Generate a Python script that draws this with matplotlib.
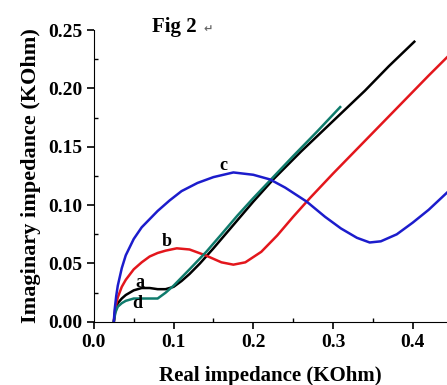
import numpy as np
import matplotlib.pyplot as plt
from matplotlib.ticker import MultipleLocator

# curve a (black)
ax_x = [0.025, 0.027, 0.030, 0.035, 0.040, 0.050, 0.060, 0.070, 0.080, 0.090, 0.100, 0.110,
        0.120, 0.133, 0.150, 0.175, 0.200, 0.225, 0.260, 0.300, 0.340, 0.370, 0.402]
ay = [0.000, 0.010, 0.016, 0.020, 0.023, 0.027, 0.029, 0.029, 0.028, 0.028, 0.030, 0.035,
      0.041, 0.050, 0.063, 0.083, 0.103, 0.122, 0.146, 0.172, 0.198, 0.219, 0.240]
# curve b (red)
bx = [0.025, 0.027, 0.030, 0.035, 0.040, 0.050, 0.060, 0.070, 0.080, 0.090, 0.104, 0.120,
      0.140, 0.160, 0.175, 0.190, 0.210, 0.230, 0.250, 0.271, 0.300, 0.340, 0.380, 0.420, 0.445]
by = [0.000, 0.012, 0.021, 0.030, 0.036, 0.045, 0.051, 0.056, 0.059, 0.061, 0.063, 0.062,
      0.057, 0.051, 0.049, 0.051, 0.060, 0.074, 0.090, 0.106, 0.127, 0.155, 0.183, 0.211, 0.228]
# curve c (blue)
cx = [0.025, 0.026, 0.028, 0.030, 0.035, 0.040, 0.050, 0.060, 0.070, 0.080, 0.095, 0.110,
      0.130, 0.150, 0.175, 0.200, 0.221, 0.240, 0.267, 0.290, 0.310, 0.330, 0.346, 0.360,
      0.380, 0.400, 0.420, 0.445]
cy = [0.000, 0.010, 0.022, 0.031, 0.046, 0.057, 0.071, 0.081, 0.088, 0.095, 0.104, 0.112,
      0.119, 0.124, 0.128, 0.126, 0.122, 0.115, 0.103, 0.090, 0.080, 0.072, 0.068, 0.069,
      0.075, 0.085, 0.096, 0.112]
# curve d (green)
dx = [0.025, 0.027, 0.030, 0.035, 0.040, 0.050, 0.060, 0.070, 0.080, 0.090, 0.100, 0.110,
      0.120, 0.141, 0.160, 0.180, 0.200, 0.225, 0.250, 0.280, 0.309]
dy = [0.000, 0.008, 0.013, 0.016, 0.018, 0.020, 0.020, 0.020, 0.020, 0.025, 0.031, 0.038,
      0.045, 0.060, 0.075, 0.091, 0.106, 0.124, 0.142, 0.163, 0.184]

labels = ['a', 'b', 'c', 'd']
label_pos = [(0.058, 0.034), (0.091, 0.069), (0.162, 0.134), (0.055, 0.016)]

plt.rcParams['font.family'] = ['Liberation Serif', 'DejaVu Serif']
plt.rcParams['font.weight'] = 'bold'

fig = plt.figure(figsize=(4.47, 3.85), dpi=100)
ax = fig.add_axes([0.21, 0.164, 0.79, 0.758])

ax.plot(ax_x, ay, color='black', lw=1.8)
ax.plot(bx, by, color='#e3161c', lw=1.8)
ax.plot(dx, dy, color='#0f7b6c', lw=1.8)
ax.plot(cx, cy, color='#1c1ccc', lw=1.8)

for lab, (x, y) in zip(labels, label_pos):
    ax.text(x, y, lab, fontsize=13, fontweight='bold', ha='center', va='center')

ax.set_xlim(0, 0.443)
ax.set_ylim(0, 0.25)
ax.spines['top'].set_visible(False)
ax.spines['right'].set_visible(False)
ax.xaxis.set_major_locator(MultipleLocator(0.1))
ax.xaxis.set_minor_locator(MultipleLocator(0.05))
ax.yaxis.set_major_locator(MultipleLocator(0.05))
ax.yaxis.set_minor_locator(MultipleLocator(0.025))
ax.xaxis.set_major_formatter(plt.FuncFormatter(lambda v, p: '%.1f' % v))
ax.yaxis.set_major_formatter(plt.FuncFormatter(lambda v, p: '%.2f' % v))
ax.tick_params(which='major', direction='out', length=5, width=1.2, labelsize=14)
ax.tick_params(which='minor', direction='in', length=3, width=1)

ax.set_xlabel('Real impedance (KOhm)', fontsize=15, fontweight='bold', labelpad=11)
ax.set_ylabel('Imaginary impedance (KOhm)', fontsize=16, fontweight='bold', labelpad=5)

fig.text(0.34, 0.93, 'Fig 2', fontsize=15, fontweight='bold', ha='left', va='center')
fig.text(0.455, 0.925, '\u21b5', fontsize=8, color='#666666', ha='left', va='center',
         family='DejaVu Sans')

fig.savefig('out.png', dpi=100)
